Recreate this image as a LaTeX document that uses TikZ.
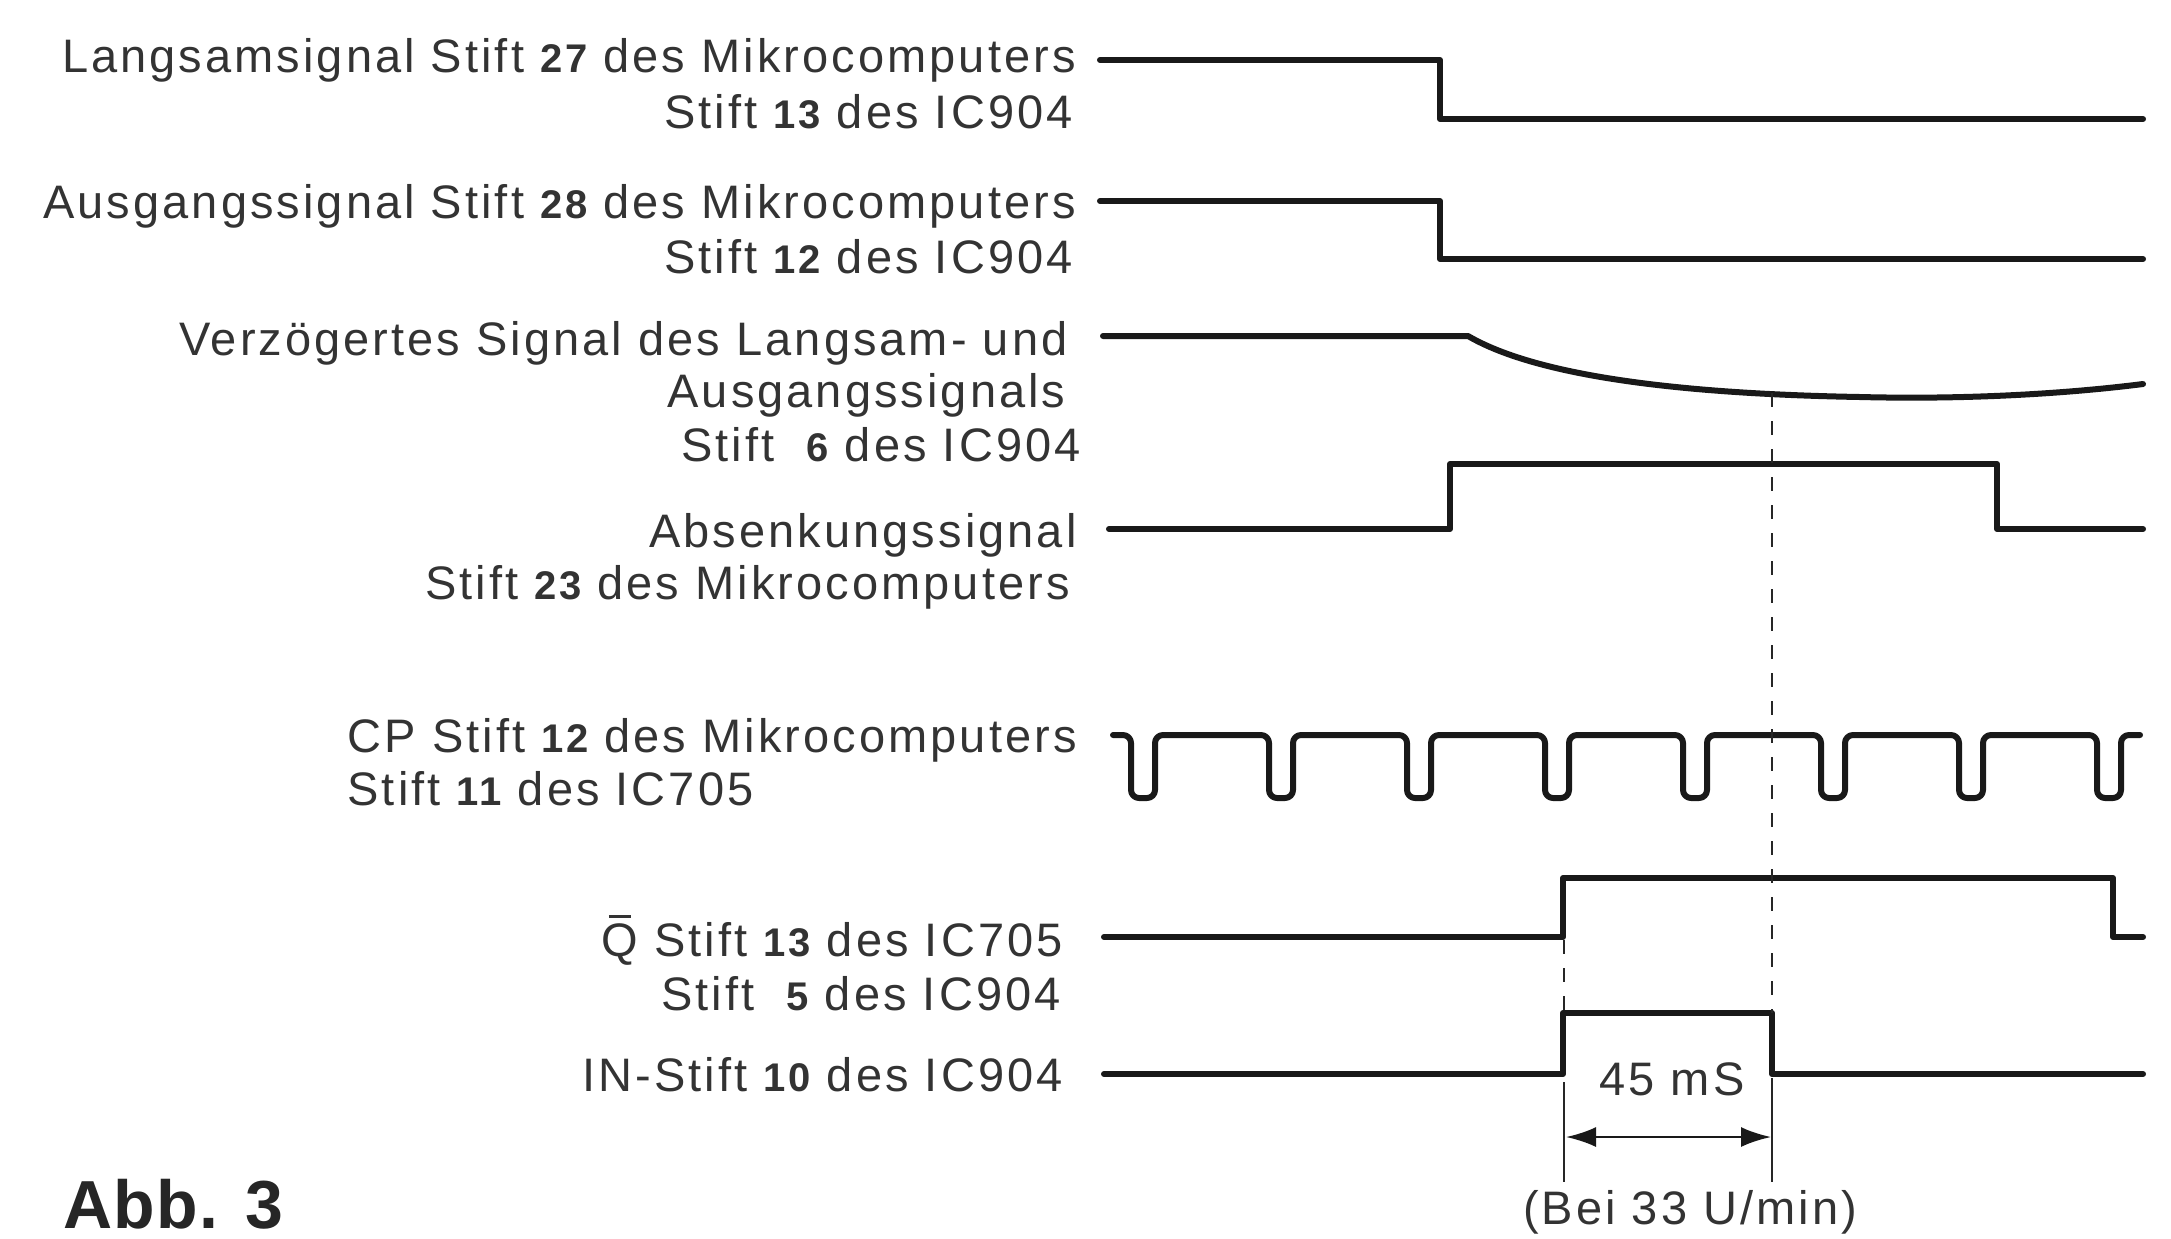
\documentclass[tikz,border=0pt]{standalone}
\usepackage{fontspec}
\setmainfont{Liberation Sans}[LetterSpace=6.5]
\usetikzlibrary{arrows.meta}
\newcommand\pinno[1]{{\fontsize{20pt}{24pt}\selectfont\bfseries #1}}
\newcommand\qbar{\rlap{\hspace{0.15em}\rule[0.8em]{0.48em}{0.07em}}Q}
\begin{document}
\begin{tikzpicture}[x=0.5pt,y=-0.5pt,
  lbl/.style={anchor=base east, inner sep=0pt, text=black!80, font=\fontsize{23.5pt}{28pt}\selectfont},
  sig/.style={line width=3pt, line join=round, line cap=round, black!90},
  guide/.style={line width=1pt, black!85, dash pattern=on 7pt off 7pt},
  guidesolid/.style={line width=1pt, black!85},
  dim/.style={line width=1.3pt, black!90, {Latex[length=15pt,width=10pt]}-{Latex[length=15pt,width=10pt]}}]
\useasboundingbox (0,0) rectangle (2171,1238);
% labels
\node[lbl] (l1a) at (1076,72) {Langsamsignal Stift \pinno{27} des Mikrocomputers};
\node[lbl] (l1b) at (1073,128) {Stift \pinno{13} des IC904};
\node[lbl] (l2a) at (1076,218) {Ausgangssignal Stift \pinno{28} des Mikrocomputers};
\node[lbl] (l2b) at (1073,273) {Stift \pinno{12} des IC904};
\node[lbl] (l3a) at (1068,355) {Verzögertes Signal des Langsam- und};
\node[lbl] (l3b) at (1066,407) {Ausgangssignals};
\node[lbl] (l3c) at (1081,461) {Stift \ \pinno{6} des IC904};
\node[lbl] (l4a) at (1077,547) {Absenkungssignal};
\node[lbl] (l4b) at (1070,599) {Stift \pinno{23} des Mikrocomputers};
\node[lbl] (l5a) at (1077,752) {CP Stift \pinno{12} des Mikrocomputers};
\node[lbl, anchor=base west] (l5b) at ([yshift=-26.5pt]l5a.base west) {Stift \pinno{11} des IC705};
\node[lbl] (l6a) at (1063,956) {\qbar\ Stift \pinno{13} des IC705};
\node[lbl] (l6b) at (1061,1010) {Stift \ \pinno{5} des IC904};
\node[lbl] (l7) at (1063,1091) {IN-Stift \pinno{10} des IC904};
\node[lbl, anchor=base] (ms) at (1672,1095) {45 mS};
\node[lbl, anchor=base] (bei) at (1690,1224) {(Bei 33 U/min)};
\node[anchor=base west, inner sep=0pt, text=black!85, font=\fontsize{34pt}{40pt}\selectfont\bfseries\addfontfeature{LetterSpace=2}] (abb) at (63,1228) {Abb. 3};
% signals
\draw[sig] (1100,60) -- (1440,60) -- (1440,119) -- (2143,119);
\draw[sig] (1100,201) -- (1440,201) -- (1440,259) -- (2143,259);
\draw[sig] (1103,336) -- (1468,336) .. controls (1540,378) and (1690,394) .. (1860,397)
  .. controls (1980,400) and (2080,392) .. (2143,384);
\draw[sig] (1109,529) -- (1450,529) -- (1450,464) -- (1997,464) -- (1997,529) -- (2143,529);
\draw[sig, rounded corners=4pt] (1113,735)
  foreach \d in {1131,1269,1407,1545,1683,1821,1959,2097} { -- (\d,735) -- (\d,798) -- (\d+24,798) -- (\d+24,735)}
  -- (2140,735);
\draw[sig] (1104,937) -- (1563,937) -- (1563,878) -- (2113,878) -- (2113,937) -- (2143,937);
\draw[sig] (1104,1074) -- (1563,1074) -- (1563,1013) -- (1772,1013) -- (1772,1074) -- (2143,1074);
% guides
\coordinate (ga) at (1772,393);
\coordinate (gb) at (1772,1013);
\coordinate (gc) at (1772,1078);
\coordinate (gd) at (1772,1182);
\coordinate (ha) at (1564,940);
\coordinate (hb) at (1564,1013);
\coordinate (hc) at (1564,1082);
\coordinate (hd) at (1564,1182);
\draw[guide] (ga) -- (gb);
\draw[guide] (ha) -- (hb);
\draw[guidesolid] (gc) -- (gd);
\draw[guidesolid] (hc) -- (hd);
\coordinate (aa) at (1566,1137);
\coordinate (ab) at (1771,1137);
\draw[dim] (aa) -- (ab);
\end{tikzpicture}
\end{document}
